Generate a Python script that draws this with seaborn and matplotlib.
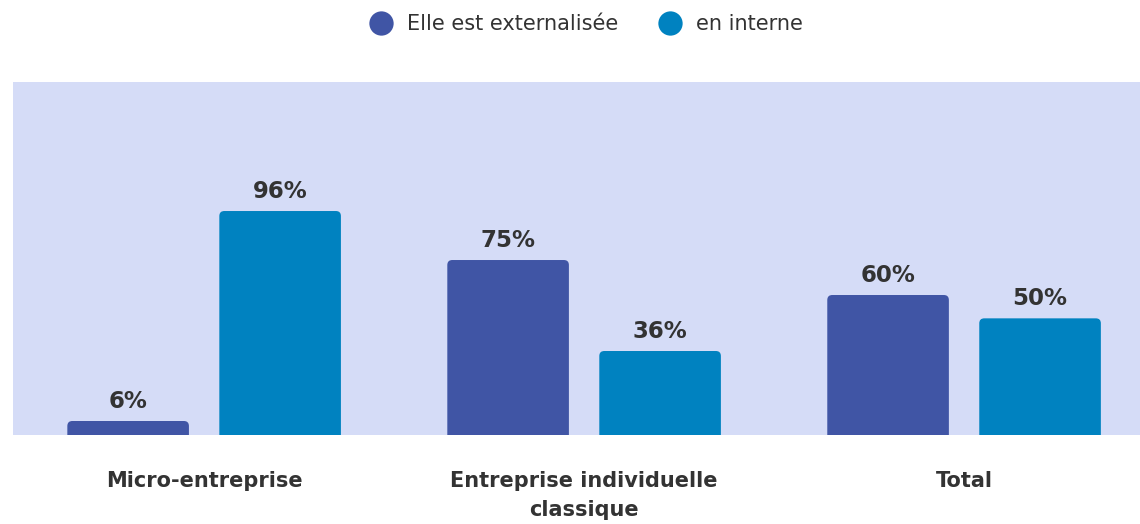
import matplotlib
matplotlib.use("Agg")
import matplotlib.pyplot as plt
from matplotlib.patches import FancyBboxPatch
from matplotlib.lines import Line2D
import seaborn as sns
import pandas as pd

# Data
categories = ["Micro-entreprise", "Entreprise individuelle\nclassique", "Total"]
series = ["Elle est externalisée", "en interne"]
externalisee = [6, 75, 60]
interne = [96, 36, 50]

colors = ["#4055a5", "#0082c0"]
bg_color = "#d5dcf7"
text_color = "#333333"

df = pd.DataFrame({
    "categorie": categories * 2,
    "serie": [series[0]] * 3 + [series[1]] * 3,
    "valeur": externalisee + interne,
})

sns.set_style("white")
plt.rcParams["font.family"] = ["DejaVu Sans"]

fig = plt.figure(figsize=(11.4, 5.24), dpi=100)
ax = fig.add_axes([13 / 1140, 89 / 524, 1127 / 1140, 353 / 524])
ax.set_facecolor(bg_color)

sns.barplot(data=df, x="categorie", y="valeur", hue="serie", order=categories,
            hue_order=series, palette=colors, saturation=1, width=0.8, gap=0.2,
            legend=False, ax=ax)

ax.set_xlim(-0.503, 2.463)
ax.set_ylim(0, 151.3)

# Value labels above bars
for cont in ax.containers:
    ax.bar_label(cont, labels=[f"{v:.0f}%" for v in cont.datavalues],
                 padding=6, fontsize=16.5, fontweight="bold", color=text_color)

# Rounded top corners: redraw each bar as a rounded box whose bottom is clipped
fig.canvas.draw()
px_x = ax.transData.transform((1, 0))[0] - ax.transData.transform((0, 0))[0]
px_y = ax.transData.transform((0, 1))[1] - ax.transData.transform((0, 0))[1]
radius_px = 5
rx = radius_px / px_x
aspect = px_x / px_y
for rect in list(ax.patches):
    x, y = rect.get_x(), rect.get_y()
    w, h = rect.get_width(), rect.get_height()
    fc = rect.get_facecolor()
    rect.set_visible(False)
    ext = radius_px / px_y
    box = FancyBboxPatch((x, y - ext), w, h + ext,
                         boxstyle=f"round,pad=0,rounding_size={rx}",
                         mutation_aspect=aspect, facecolor=fc,
                         edgecolor="none", linewidth=0, clip_on=True)
    ax.add_patch(box)

for s in ax.spines.values():
    s.set_visible(False)
ax.set_yticks([])
ax.set_xlabel("")
ax.set_ylabel("")
ax.tick_params(axis="x", length=0, pad=26)
for lbl in ax.get_xticklabels():
    lbl.set_fontsize(15)
    lbl.set_fontweight("bold")
    lbl.set_color(text_color)
    lbl.set_linespacing(1.55)
    lbl.set_va("top")

# Legend with round markers
handles = [Line2D([0], [0], marker="o", linestyle="none", markersize=17.5,
                  markerfacecolor=c, markeredgecolor="none") for c in colors]
fig.legend(handles, series, loc="center", bbox_to_anchor=(587 / 1140, 1 - 24 / 524),
           ncol=2, frameon=False, fontsize=15, labelcolor=text_color,
           handletextpad=0.75, columnspacing=2.0, handlelength=1.0)

fig.savefig("out.png", dpi=100)
